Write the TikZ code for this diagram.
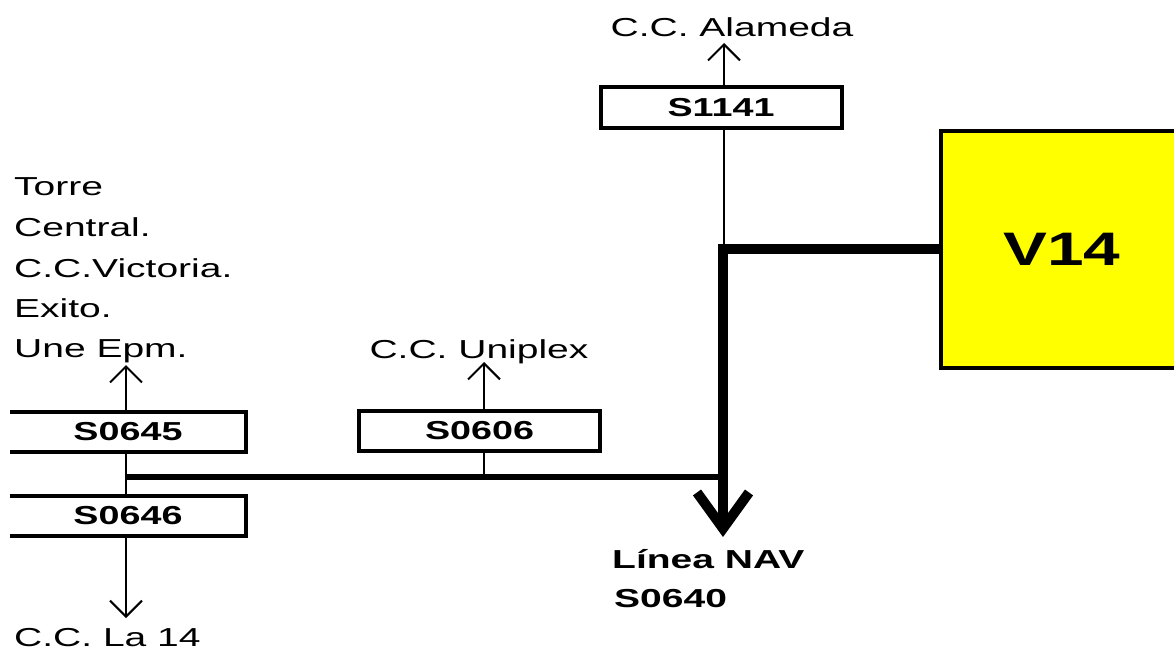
\documentclass[tikz,border=0pt]{standalone}
\usepackage{fontspec}
\setmainfont{Liberation Sans}
\newfontfamily\wf[FakeStretch=1.5]{Liberation Sans}
\newfontfamily\wfb[FakeStretch=1.45]{Liberation Sans}
\newfontfamily\wfv[FakeStretch=1.4]{Liberation Sans}
\usetikzlibrary{arrows.meta}
\definecolor{vyellow}{RGB}{255,255,0}
\begin{document}
\begin{tikzpicture}[x=1pt,y=-1pt,
  txt/.style={font=\wf\fontsize{26}{26}\selectfont, inner sep=0pt},
  btxt/.style={font=\wf\bfseries\fontsize{26}{26}\selectfont, inner sep=0pt},
  sbox/.style={font=\wfb\bfseries\fontsize{26}{26}\selectfont, inner sep=0pt, rectangle, draw, line width=4pt, minimum width=241pt, minimum height=40pt},
  obox/.style={font=\wfb\bfseries\fontsize{26}{26}\selectfont, inner sep=0pt, rectangle, minimum width=236pt, minimum height=39pt},
  thinline/.style={line width=2pt},
  thinarr/.style={line width=2pt, -{Straight Barb[length=16pt,width=32pt]}},
  thickarr/.style={line width=10pt, -{Straight Barb[length=36pt,width=52pt]}},
]
\useasboundingbox (0,0) rectangle (1174,650);

% coordinates for free ends / junctions
\coordinate (h1) at (126,477);
\coordinate (a0645) at (126,365);
\coordinate (a0646) at (126,618);
\coordinate (a0606) at (484,362);
\coordinate (a1141) at (724,43);
\coordinate (j1141) at (724,250);
\coordinate (navtip) at (723,537);

% boxes
\node[sbox] (s1141) at (721,107.5) {S1141};
\node[sbox] (s0606) at (479.5,431) {S0606};
\node[obox] (s0645) at (128,432) {S0645};
\node[obox] (s0646) at (128,516) {S0646};
\draw[line width=4pt] (s0645.north west) -- (s0645.north east) -- (s0645.south east) -- (s0645.south west);
\draw[line width=4pt] (s0646.north west) -- (s0646.north east) -- (s0646.south east) -- (s0646.south west);

% texts
\node[txt, anchor=base] (alameda) at (732,37) {C.C. Alameda};
\node[txt, anchor=base] (uniplex) at (479,358) {C.C. Uniplex};
\node[txt, anchor=base west] (l1) at (14,195) {Torre};
\node[txt, anchor=base west] (l2) at (14,236) {Central.};
\node[txt, anchor=base west] (l3) at (14,277) {C.C.Victoria.};
\node[txt, anchor=base west] (l4) at (14,317) {Exito.};
\node[txt, anchor=base west] (l5) at (14,357) {Une Epm.};
\node[txt, anchor=base west] (la14) at (14,646) {C.C. La 14};
\node[btxt, anchor=base west] (nav1) at (612,568) {Línea NAV};
\node[btxt, anchor=base west] (nav2) at (614,607) {S0640};

% connectors
\draw[thinarr] (s1141.north -| a1141) -- (a1141);
\draw[thinline] (s1141.south -| j1141) -- (j1141);
\draw[thinarr] (s0606.north -| a0606) -- (a0606);
\draw[thinline] (s0606.south -| a0606) -- (a0606 |- h1);
\draw[thinarr] (s0645.north -| h1) -- (a0645);
\draw[thinline] (s0645.south -| h1) -- (s0646.north -| h1);
\draw[thinarr] (s0646.south -| h1) -- (a0646);
\draw[line width=6pt] (h1) -- (h1 -| navtip);

\node[rectangle, draw, line width=4pt, fill=vyellow, minimum width=242pt, minimum height=237pt,
  font=\wfv\bfseries\fontsize{47}{47}\selectfont] (v14) at (1062,249) {V14};
\draw[thickarr] (v14.west) -| (navtip);
\end{tikzpicture}
\end{document}
